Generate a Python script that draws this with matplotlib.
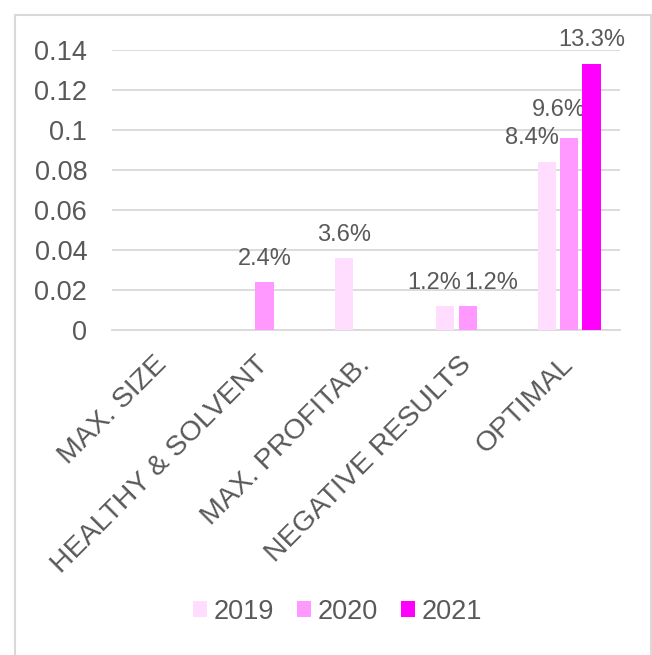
import matplotlib
matplotlib.use('Agg')
import matplotlib.pyplot as plt
from matplotlib.patches import Rectangle
import numpy as np

plt.rcParams['font.family'] = ['Liberation Sans', 'DejaVu Sans']

categories = ['MAX. SIZE', 'HEALTHY & SOLVENT', 'MAX. PROFITAB.',
              'NEGATIVE RESULTS', 'OPTIMAL']
years = ['2019', '2020', '2021']
v2019 = [0, 0, 0.036, 0.012, 0.084]
v2020 = [0, 0.024, 0, 0.012, 0.096]
v2021 = [0, 0, 0, 0, 0.133]
yticks = [0, 0.02, 0.04, 0.06, 0.08, 0.1, 0.12, 0.14]
ytick_labels = ['0', '0.02', '0.04', '0.06', '0.08', '0.1', '0.12', '0.14']

colors = ['#FFDDFF', '#FF99FF', '#FF00FF']
TXT = '#595959'
GRID = '#D9D9D9'
FS = 19.5
XFS = 20.5
LFS = 17

fig = plt.figure(figsize=(6.52, 6.55), dpi=100)
ax = fig.add_axes([0.172, 0.496, 0.779, 0.428])

x = np.arange(len(categories))
w = 0.18
step = 0.22
series = [v2019, v2020, v2021]
# label nudges (px) Excel applies to keep labels apart
nudge = {(0, 4): (-15, 0), (1, 4): (-10, 4), (0, 3): (-11, 0), (1, 3): (24, 0)}
for i, (vals, yr, c) in enumerate(zip(series, years, colors)):
    xs = x + (i - 1) * step
    ax.bar(xs, vals, width=w, color=c, label=yr, zorder=3)
    for j, v in enumerate(vals):
        if v > 0:
            dx, dy = nudge.get((i, j), (0, 0))
            ax.annotate(f'{v*100:.1f}%', xy=(xs[j], v),
                        xytext=(dx * 0.72, 9 + dy * 0.72),
                        textcoords='offset points', ha='center', va='bottom',
                        fontsize=LFS, color=TXT)

ax.set_xlim(-0.5, len(categories) - 0.5)
ax.set_ylim(0, 0.14)
ax.set_yticks(yticks)
ax.set_yticklabels(ytick_labels)
ax.yaxis.grid(True, color=GRID, lw=1.3, zorder=0)
ax.set_axisbelow(True)
for s in ['top', 'right', 'left']:
    ax.spines[s].set_visible(False)
ax.spines['bottom'].set_color(GRID)
ax.spines['bottom'].set_linewidth(1.3)
ax.tick_params(axis='y', length=0, labelsize=FS, labelcolor=TXT, pad=18)
ax.set_xticks(x)
ax.set_xticklabels(categories, rotation=45, ha='right', va='center',
                   rotation_mode='anchor')
ax.tick_params(axis='x', length=0, labelsize=XFS, labelcolor=TXT, pad=22)

leg = fig.legend(loc='center', bbox_to_anchor=(0.518, 0.066), ncol=3,
                 frameon=False, fontsize=FS, handlelength=0.52,
                 handleheight=0.52, handletextpad=0.25, columnspacing=0.85)
for t in leg.get_texts():
    t.set_color(TXT)

fig.patches.append(Rectangle((0.023, -0.01), 0.975, 0.987,
                             transform=fig.transFigure, fill=False,
                             ec=GRID, lw=1.5))

fig.savefig('out.png', dpi=100, facecolor='white')
plt.close(fig)
